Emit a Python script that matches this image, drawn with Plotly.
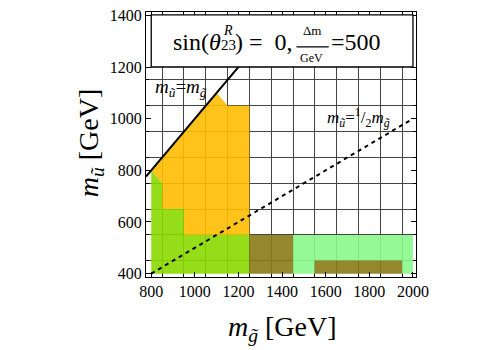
import plotly.graph_objects as go

# ---- data ----
x_ticks = [800, 1000, 1200, 1400, 1600, 1800, 2000]
y_ticks = [400, 600, 800, 1000, 1200, 1400]
x_grid = [850, 950, 1050, 1150, 1250, 1350, 1450, 1550, 1650, 1750, 1850, 1950]
y_grid = [450, 550, 650, 750, 850, 950, 1050, 1150]

# excluded regions (m_gluino, m_squark) boundaries
green_x = [800, 800, 850, 850, 950, 950, 1250, 1250]
green_y = [400, 800, 750, 650, 650, 550, 550, 400]

orange_x = [800, 1100, 1150, 1250, 1250, 950, 950, 850, 850]
orange_y = [800, 1100, 1050, 1050, 550, 550, 650, 650, 750]

olive1_x = [1250, 1250, 1450, 1450]
olive1_y = [400, 550, 550, 400]
olive2_x = [1550, 1550, 1950, 1950]
olive2_y = [400, 450, 450, 400]

light_x = [1450, 1450, 2000, 2000, 1950, 1950, 1550, 1550]
light_y = [400, 550, 550, 400, 400, 450, 450, 400]

diag_x = [776, 1300]          # m_u = m_g
half_x = [800, 2000]          # m_u = m_g / 2

x_range = [776, 2014]
y_range = [387, 1413]

FONT = "Liberation Serif, Times New Roman, serif"

fig = go.Figure()

def region(xs, ys, color):
    fig.add_trace(go.Scatter(x=xs + [xs[0]], y=ys + [ys[0]], mode="lines",
                             fill="toself", fillcolor=color,
                             line=dict(width=0), hoverinfo="skip",
                             showlegend=False))

region(green_x, green_y, "rgba(138,216,0,0.9)")
region(orange_x, orange_y, "rgba(255,189,0,0.9)")
region(light_x, light_y, "rgba(138,249,138,0.9)")
region(olive1_x, olive1_y, "rgba(138,122,22,0.9)")
region(olive2_x, olive2_y, "rgba(138,122,22,0.9)")

fig.add_trace(go.Scatter(x=diag_x, y=diag_x, mode="lines",
                         line=dict(color="black", width=2),
                         showlegend=False, hoverinfo="skip"))
fig.add_trace(go.Scatter(x=half_x, y=[v / 2 for v in half_x], mode="lines",
                         line=dict(color="black", width=2, dash="4px,4px"),
                         showlegend=False, hoverinfo="skip"))

axis_common = dict(
    showline=True, linecolor="black", linewidth=1.3, mirror="ticks",
    ticks="inside", ticklen=5, tickcolor="black", tickwidth=1,
    showgrid=False, zeroline=False,
    tickfont=dict(family=FONT, size=16, color="black"),
)

fig.update_xaxes(range=x_range, tickmode="array", tickvals=x_ticks,
                 ticktext=[str(v) for v in x_ticks],
                 minor=dict(tickmode="array", tickvals=x_grid, showgrid=True,
                            gridcolor="#444", gridwidth=1, ticks="inside",
                            ticklen=3, tickcolor="black"),
                 **axis_common)
fig.update_yaxes(range=y_range, tickmode="array", tickvals=y_ticks,
                 ticktext=[str(v) for v in y_ticks],
                 minor=dict(tickmode="array", tickvals=y_grid, showgrid=True,
                            gridcolor="#444", gridwidth=1, ticks="inside",
                            ticklen=3, tickcolor="black"),
                 **axis_common)

# title box
fig.add_shape(type="rect", x0=800, x1=2000, y0=1200, y1=1402, xref="x", yref="y",
              fillcolor="white", line=dict(color="black", width=1.3), layer="above")
fig.add_shape(type="line", x0=1466, x1=1614, y0=1278, y1=1278, xref="x", yref="y",
              line=dict(color="black", width=1.3), layer="above")

ann = []
def A(text, x, y, size, xanchor="center", yanchor="middle", xref="x", yref="y", angle=0):
    ann.append(dict(text=text, x=x, y=y, xref=xref, yref=yref, showarrow=False,
                    xanchor=xanchor, yanchor=yanchor, textangle=angle,
                    font=dict(family=FONT, size=size, color="black")))

A("sin(<i>θ</i>", 1131, 1297, 24, xanchor="right")
A("<i>R</i>", 1150, 1340, 14)
A("23", 1152, 1284, 15)
A(") =  0,", 1176, 1297, 24, xanchor="left")
A("Δm", 1537, 1343, 13)
A("GeV", 1537, 1233, 12)
A("=500", 1614, 1297, 24, xanchor="left")

A("<i>m</i><sub><i>ũ</i></sub>=<i>m</i><sub><i>g̃</i></sub>", 806, 1120, 19, xanchor="left")
A("<i>m</i><sub><i>ũ</i></sub>=<sup>1</sup>/<sub>2</sub><i>m</i><sub><i>g̃</i></sub>",
  1596, 1003, 17, xanchor="left")

A("<i>m</i><sub><i>g̃</i></sub> [GeV]", 0.504, -0.195, 28, xref="paper", yref="paper")
A("<i>m</i><sub><i>ũ</i></sub> [GeV]", -0.205, 0.507, 28, xref="paper", yref="paper", angle=-90)

fig.update_layout(
    width=500, height=350,
    margin=dict(l=146, r=84, t=7, b=73),
    paper_bgcolor="white", plot_bgcolor="white",
    font=dict(family=FONT, color="black"),
    annotations=ann,
    showlegend=False,
)

fig.write_html("out.html")
